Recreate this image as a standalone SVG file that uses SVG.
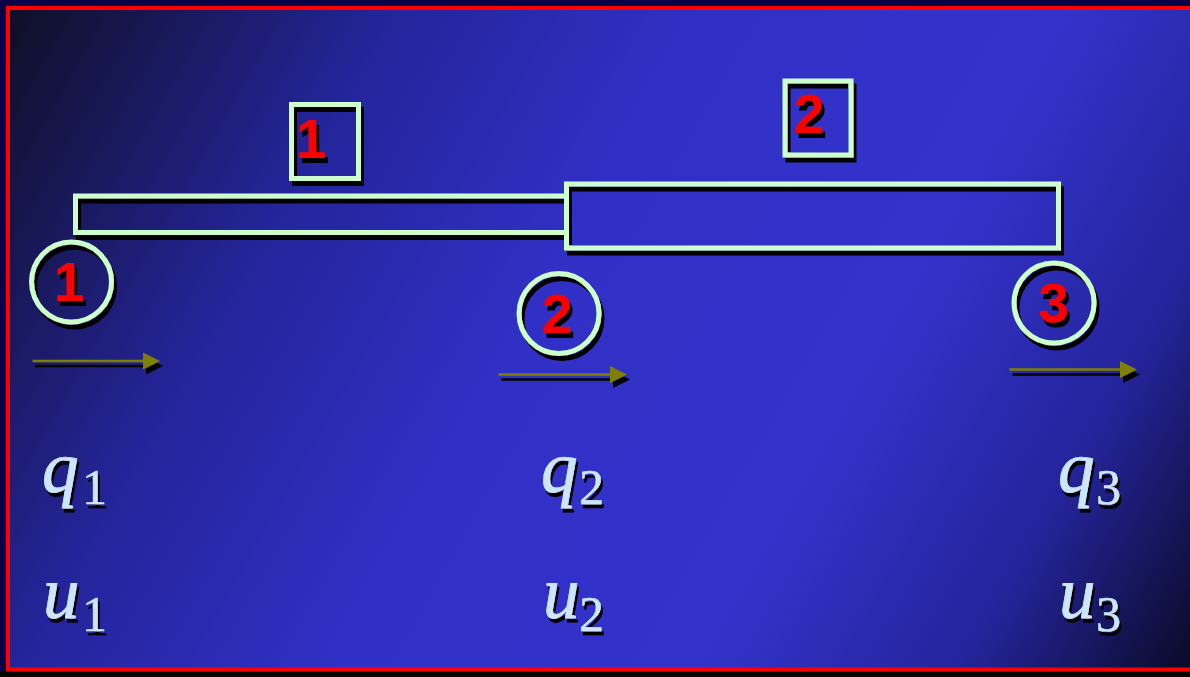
<svg xmlns="http://www.w3.org/2000/svg" width="1190" height="677" viewBox="0 0 1190 677">
<defs>
<linearGradient id="bg" gradientUnits="userSpaceOnUse" x1="0" y1="0" x2="1190" y2="677">
<stop offset="0" stop-color="#0e0e22"/>
<stop offset="0.25" stop-color="#24249a"/>
<stop offset="0.45" stop-color="#3030c6"/>
<stop offset="0.68" stop-color="#3333cc"/>
<stop offset="0.85" stop-color="#24249c"/>
<stop offset="1" stop-color="#0a0a26"/>
</linearGradient>
<filter id="sh" x="-20%" y="-20%" width="140%" height="140%">
<feOffset in="SourceAlpha" dx="3" dy="5" result="o"/>
<feMerge><feMergeNode in="o"/><feMergeNode in="SourceGraphic"/></feMerge>
</filter>
<filter id="shm" x="-20%" y="-20%" width="140%" height="140%">
<feOffset in="SourceAlpha" dx="2" dy="4" result="o"/>
<feMerge><feMergeNode in="o"/><feMergeNode in="SourceGraphic"/></feMerge>
</filter>
<style>
.ol{fill:none;stroke:#ccffcc;stroke-width:5}
.num{font-family:"Liberation Sans",Arial,sans-serif;font-weight:bold;font-size:55px;text-anchor:middle;fill:#ff0000}
.m{font-family:"Liberation Serif","Times New Roman",serif;font-style:italic;font-size:73px;fill:#cce6ff;stroke:#cce6ff;stroke-width:0.8}
.s{font-family:"Liberation Serif","Times New Roman",serif;font-size:50px;fill:#cce6ff;stroke:#cce6ff;stroke-width:0.5}
.ar{stroke:#808000;stroke-width:2.5;fill:none}
.arh{fill:#808000}
</style>
</defs>
<rect x="0" y="0" width="1190" height="677" fill="#0a0048"/>
<rect x="0" y="671" width="1190" height="6" fill="#000"/>
<rect x="8" y="8" width="1200" height="661.5" fill="url(#bg)" stroke="#ff0000" stroke-width="4"/>

<g id="element1" filter="url(#sh)">
<rect class="ol" x="75.5" y="196" width="491" height="36.5"/>
</g>
<g id="element2" filter="url(#sh)">
<rect class="ol" x="566.5" y="184" width="492" height="64"/>
</g>
<g id="label-element1" filter="url(#sh)">
<rect class="ol" x="291.5" y="104.5" width="67" height="74"/>
<text class="num" x="311" y="158">1</text>
</g>
<g id="label-element2" filter="url(#sh)">
<rect class="ol" x="785" y="81" width="66" height="74"/>
<text class="num" x="809" y="132.5">2</text>
</g>
<g id="node1" filter="url(#sh)">
<circle class="ol" cx="71.5" cy="282" r="40"/>
<text class="num" x="69" y="300.5">1</text>
</g>
<g id="node2" filter="url(#sh)">
<circle class="ol" cx="559" cy="313.5" r="40"/>
<text class="num" x="557" y="332.5">2</text>
</g>
<g id="node3" filter="url(#sh)">
<circle class="ol" cx="1054" cy="303" r="40"/>
<text class="num" x="1053.5" y="321.5">3</text>
</g>
<g id="connectors" filter="url(#sh)">
<line class="ar" x1="32.5" y1="361" x2="147" y2="361"/>
<polygon class="arh" points="143,352.5 160,361 143,369.5"/>
<line class="ar" x1="498.5" y1="374.5" x2="613" y2="374.5"/>
<polygon class="arh" points="610,366 627,374.5 610,383"/>
<line class="ar" x1="1009.5" y1="369.5" x2="1123" y2="369.5"/>
<polygon class="arh" points="1120,361 1137,369.5 1120,378"/>
</g>
<g id="labels" filter="url(#shm)">
<text x="42" y="492"><tspan class="m">q</tspan><tspan class="s" x="82" y="504">1</tspan></text>
<text x="541" y="492"><tspan class="m">q</tspan><tspan class="s" x="579" y="504">2</tspan></text>
<text x="1058" y="492"><tspan class="m">q</tspan><tspan class="s" x="1096" y="504">3</tspan></text>
<text x="43" y="618"><tspan class="m">u</tspan><tspan class="s" x="82" y="631">1</tspan></text>
<text x="543" y="618"><tspan class="m">u</tspan><tspan class="s" x="579" y="631">2</tspan></text>
<text x="1059" y="618"><tspan class="m">u</tspan><tspan class="s" x="1096" y="631">3</tspan></text>
</g>
</svg>
